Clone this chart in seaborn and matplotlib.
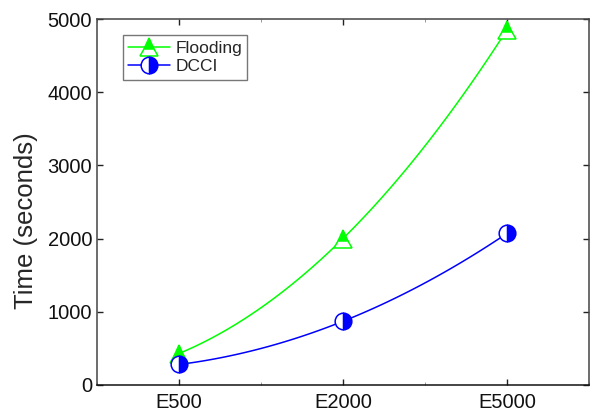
import numpy as np
import pandas as pd
import matplotlib
matplotlib.use("Agg")
import matplotlib.pyplot as plt
from matplotlib.lines import Line2D
from matplotlib.ticker import MultipleLocator
import seaborn as sns

categories = ['E500', 'E2000', 'E5000']
flooding = [430, 2000, 4850]
dcci = [280, 870, 2070]

sns.set_style("ticks")
plt.rcParams['font.family'] = ['Liberation Sans', 'DejaVu Sans']

fig = plt.figure(figsize=(5.9, 4.08), dpi=100)
ax = fig.add_axes([0.1644, 0.0564, 0.8336, 0.897])

pos = np.arange(len(categories))
series = [
    ('Flooding', flooding, '#00ff00', '^', 'top', 13),
    ('DCCI', dcci, '#0000ff', 'o', 'right', 12),
]

handles = []
for name, vals, col, mk, fs, ms in series:
    # smooth connecting curve through the three points (quadratic)
    coef = np.polyfit(pos, vals, 2)
    xs = np.linspace(pos[0], pos[-1], 100)
    curve = pd.DataFrame({'x': xs, 'y': np.polyval(coef, xs)})
    sns.lineplot(data=curve, x='x', y='y', color=col, linewidth=1.1, ax=ax)
    pts = pd.DataFrame({'x': pos, 'y': vals})
    sns.lineplot(data=pts, x='x', y='y', color=col, linestyle='', marker=mk,
                 markersize=ms, fillstyle=fs, markerfacecolor=col,
                 markerfacecoloralt='white', markeredgecolor=col,
                 markeredgewidth=1.1, ax=ax, zorder=3)
    handles.append(Line2D([], [], color=col, linewidth=1.1, marker=mk,
                          markersize=ms, fillstyle=fs, markerfacecolor=col,
                          markerfacecoloralt='white', markeredgecolor=col,
                          markeredgewidth=1.1, label=name))

ax.set_xlim(-0.5, 2.5)
ax.set_ylim(0, 5000)
ax.set_xticks(pos)
ax.set_xticklabels(categories)
ax.xaxis.set_minor_locator(MultipleLocator(0.5))
ax.set_yticks([0, 1000, 2000, 3000, 4000, 5000])
ax.set_xlabel('')
ax.set_ylabel('Time (seconds)', fontsize=18.5)
ax.yaxis.set_label_coords(-0.12, 0.45)
ax.tick_params(axis='both', which='major', direction='in', length=4,
               top=True, right=True, labelsize=14.5, color='#222222', width=1,
               labelcolor='#111111')
ax.tick_params(axis='x', which='major', pad=6)
ax.tick_params(axis='x', which='minor', direction='in', length=2,
               top=True, color='#888888')
for side in ax.spines.values():
    side.set_color('#444444')
    side.set_linewidth(1.1)
ax.spines['bottom'].set_color('#111111')

leg = ax.legend(handles=handles, loc='upper left', bbox_to_anchor=(0.053, 0.955),
                fontsize=12.5, frameon=True, fancybox=False, handlelength=2.4,
                borderpad=0.3, labelspacing=0.2, handletextpad=0.3,
                borderaxespad=0)
leg.get_frame().set_edgecolor('#555555')
leg.get_frame().set_linewidth(1.0)

fig.savefig('out.png', dpi=100)
